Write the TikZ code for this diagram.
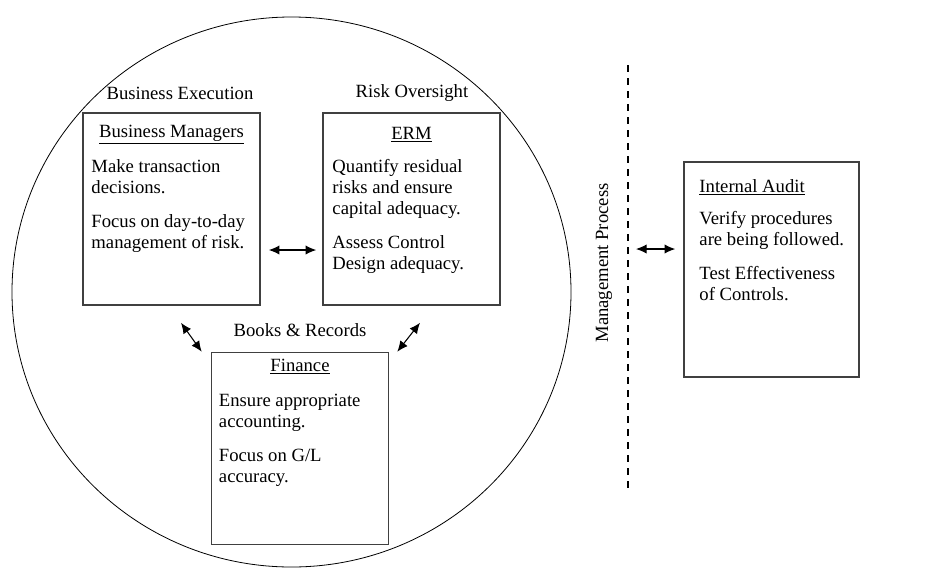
\documentclass[tikz,border=0pt]{standalone}
\usepackage{fontspec}
\setmainfont{Liberation Serif}
\usetikzlibrary{shapes.geometric, positioning, arrows.meta}

\begin{document}
\begin{tikzpicture}[x=0.75pt, y=-0.75pt,
    every node/.style={font=\fontsize{14}{15.75}\selectfont},
    bx/.style={rectangle, draw=black!75, line width=1.2pt,
        minimum width=132.75pt, minimum height=144pt, inner sep=0pt},
    ttl/.style={anchor=base, inner sep=0pt},
    bd/.style={anchor=north west, align=left, inner sep=0pt},
    lb/.style={anchor=base, inner sep=0pt},
    ar/.style={{Latex[length=8pt,width=7pt]}-{Latex[length=8pt,width=7pt]}, line width=0.8pt},
    dsh/.style={line width=1.1pt, dash pattern=on 5.25pt off 4.5pt}]
\useasboundingbox (0,0) rectangle (941,568);
\node[ellipse, draw, line width=0.6pt, minimum width=419.25pt, minimum height=412.5pt, inner sep=0pt] (org) at (291.5,292) {};
\node[bx] (bm) at (171.5,209) {};
\node[bx] (erm) at (411.5,209) {};
\node[bx] (fin) at (300,448.5) {};
\node[bx, minimum width=131.25pt, minimum height=161.25pt] (ia) at (771.5,269.5) {};
\node[ttl] (bmt) at ([shift={(0,25)}]bm.north) {\underline{Business Managers}};
\node[bd] (bmb) at ([shift={(9,45.3)}]bm.north west) {\strut Make transaction\\decisions.\\[9.75pt]Focus on day-to-day\\management of risk.};
\node[ttl] (ermt) at ([shift={(0,27)}]erm.north) {\underline{ERM}};
\node[bd] (ermb) at ([shift={(10,45.3)}]erm.north west) {\strut Quantify residual\\risks and ensure\\capital adequacy.\\[9.75pt]Assess Control\\Design adequacy.};
\node[ttl] (fint) at ([shift={(0,20)}]fin.north) {\underline{Finance}};
\node[bd] (finb) at ([shift={(8,40.3)}]fin.north west) {\strut Ensure appropriate\\accounting.\\[9.75pt]Focus on G/L\\accuracy.};
\node[ttl, anchor=base west] (iat) at ([shift={(16,31)}]ia.north west) {\underline{Internal Audit}};
\node[bd] (iab) at ([shift={(16,48.3)}]ia.north west) {\strut Verify procedures\\are being followed.\\[9.75pt]Test Effectiveness\\of Controls.};
\node[lb] (exec) at ([shift={(8.5,-13)}]bm.north) {Business Execution};
\node[lb] (risk) at ([shift={(0.5,-15)}]erm.north) {Risk Oversight};
\node[lb] (books) at ([shift={(0,-15)}]fin.north) {Books \& Records};
\coordinate (mtop) at (628,65);
\coordinate (mbot) at (628,489);
\coordinate (mid) at (mtop |- ia.west);
\node[rotate=90, inner sep=0pt] (mgmt) at ([shift={(-24,-6.5)}]mid) {Management Process};
\draw[dsh] (mtop) -- (mbot);
\draw[ar] ([shift={(8,41)}]bm.east) -- ([shift={(-6,41)}]erm.west);
\draw[ar] ([shift={(9.5,17)}]bm.south) -- ([shift={(-9,0)}]fin.north west);
\draw[ar] ([shift={(8.5,17)}]erm.south) -- ([shift={(8,0)}]fin.north east);
\draw[ar] ([shift={(8,-20.5)}]mid) -- ([shift={(-8,-20.5)}]ia.west);
\end{tikzpicture}
\end{document}
